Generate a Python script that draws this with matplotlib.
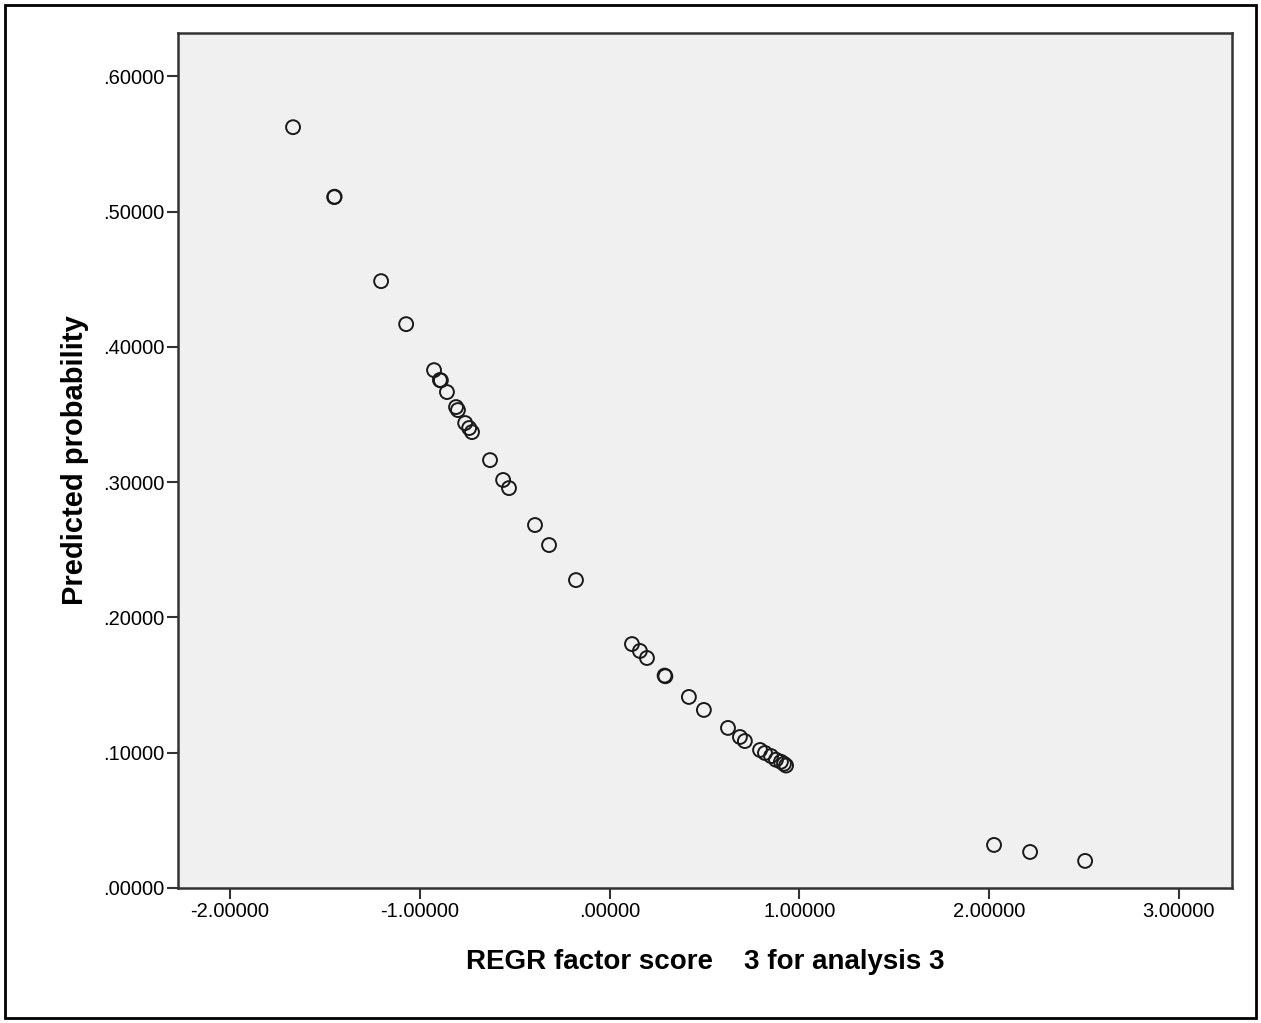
import numpy as np
import matplotlib
matplotlib.use("Agg")
from matplotlib import pyplot as plt
from matplotlib.patches import Rectangle

plt.rcParams['font.family'] = ['Liberation Sans', 'DejaVu Sans']

# factor scores (x) and predicted probabilities (y)
factor_score = [-1.668, -1.451, -1.449, -1.204, -1.072, -0.925, -0.894, -0.889,
                -0.857, -0.809, -0.799, -0.761, -0.740, -0.725, -0.630, -0.561,
                -0.530, -0.393, -0.319, -0.177, 0.118, 0.160, 0.197, 0.290,
                0.294, 0.418, 0.497, 0.624, 0.687, 0.713, 0.793, 0.819,
                0.851, 0.877, 0.903, 0.919, 0.930, 2.026, 2.216, 2.506]
pred_prob = [0.5624, 0.5107, 0.5110, 0.4486, 0.4168, 0.3828, 0.3755, 0.3752,
             0.3666, 0.3555, 0.3533, 0.3437, 0.3400, 0.3370, 0.3163, 0.3016,
             0.2956, 0.2683, 0.2535, 0.2276, 0.1803, 0.1752, 0.1700, 0.1570,
             0.1565, 0.1412, 0.1316, 0.1183, 0.1116, 0.1086, 0.1020, 0.0998,
             0.0975, 0.0948, 0.0933, 0.0918, 0.0905, 0.0318, 0.0266, 0.0200]

x_ticks = [-2, -1, 0, 1, 2, 3]
y_ticks = [0.0, 0.1, 0.2, 0.3, 0.4, 0.5, 0.6]


def fmt(v):
    s = "%.5f" % v
    return s.replace("0.", ".", 1) if abs(v) < 1 else s


fig = plt.figure(figsize=(12.61, 10.23), dpi=100)
fig.patches.append(Rectangle((0.004, 0.005), 0.992, 0.99, transform=fig.transFigure,
                             fill=False, edgecolor='black', linewidth=2))

ax = fig.add_axes([0.1412, 0.132, 0.8358, 0.8357])
ax.set_facecolor('#f0f0f0')
ax.scatter(factor_score, pred_prob, s=100, facecolors='none', edgecolors='#1a1a1a',
           linewidths=1.4, zorder=3)

ax.set_xlim(-2.274, 3.28)
ax.set_ylim(0, 0.632)
ax.set_xticks(x_ticks)
ax.set_xticklabels([fmt(v) for v in x_ticks])
ax.set_yticks(y_ticks)
ax.set_yticklabels([fmt(v) for v in y_ticks])
ax.tick_params(length=8, width=1.5, labelsize=14.5, pad=2, color='#333333')

for sp in ax.spines.values():
    sp.set_linewidth(1.8)
    sp.set_color('#333333')

ax.set_xlabel("REGR factor score    3 for analysis 3", fontsize=20, fontweight='bold', labelpad=20)
ax.set_ylabel("Predicted probability", fontsize=21, fontweight='bold', labelpad=10)

fig.savefig("out.png", dpi=100)
